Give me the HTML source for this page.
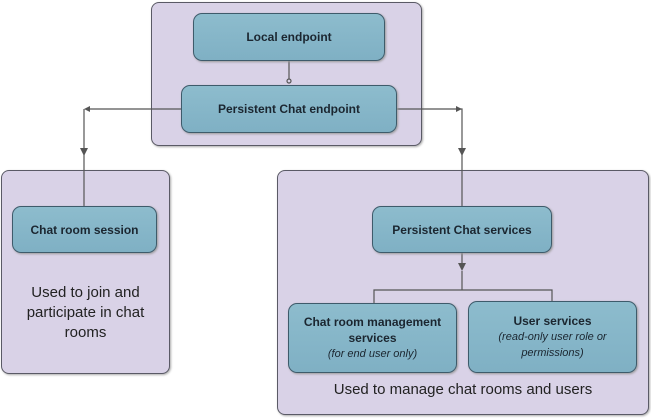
<!DOCTYPE html><html><head><style>
body{margin:0;width:651px;height:418px;background:#fff;font-family:"Liberation Sans",sans-serif;position:relative;overflow:hidden}
.c{position:absolute;background:#d9d2e7;border:1px solid #5a5a66;border-radius:8px;box-shadow:1px 1px 2px #aaa;box-sizing:border-box}
.n{position:absolute;background:linear-gradient(#8dbccd,#7fb0c4);border:1px solid #3e5b6b;border-radius:9px;box-sizing:border-box;display:flex;flex-direction:column;align-items:center;justify-content:center;text-align:center;font-weight:bold;font-size:12px;color:#1b2630;box-shadow:1px 1px 2px #999;line-height:16px}
.n i{font-weight:normal;font-size:11px}
.t{position:absolute;text-align:center;color:#222;font-size:15px;line-height:20px}
svg{position:absolute;left:0;top:0}
</style></head><body>
<div class="c" style="left:151px;top:2px;width:271px;height:144px"></div>
<div class="c" style="left:1px;top:170px;width:169px;height:204px"></div>
<div class="c" style="left:277px;top:170px;width:372px;height:245px"></div>
<svg width="651" height="418"><g stroke="#555" stroke-width="1.2" fill="none">
<path d="M289 61V79"/><circle cx="289" cy="81" r="2" fill="#d9d2e7"/>
<path d="M181 109H88M84 109V206M397 109H462V206M462 253V265M374 303V290H552V303"/>
</g><g fill="#555">
<path d="M84 109l6-3v6z"/><path d="M80 148h8l-4 8z"/><path d="M462 109l-6-3v6z"/><path d="M458 148h8l-4 8z"/><path d="M458 263h8l-4 8z"/>
</g><path d="M462 271V290" stroke="#555" stroke-width="1.2"/></svg>
<div class="n" style="left:193px;top:13px;width:192px;height:48px">Local endpoint</div>
<div class="n" style="left:181px;top:85px;width:216px;height:48px">Persistent Chat endpoint</div>
<div class="n" style="left:12px;top:206px;width:145px;height:47px">Chat room session</div>
<div class="n" style="left:372px;top:206px;width:180px;height:47px">Persistent Chat services</div>
<div class="n" style="left:288px;top:303px;width:169px;height:70px">Chat room management<br>services<i>(<em>for end user only</em>)</i></div>
<div class="n" style="left:468px;top:301px;width:169px;height:72px">User services<i>(<em>read-only user role or<br>permissions</em>)</i></div>
<div class="t" style="left:1px;top:283px;width:169px">Used to join and<br>participate in chat<br>rooms</div>
<div class="t" style="left:277px;top:380px;width:372px">Used to manage chat rooms and users</div>
</body></html>
